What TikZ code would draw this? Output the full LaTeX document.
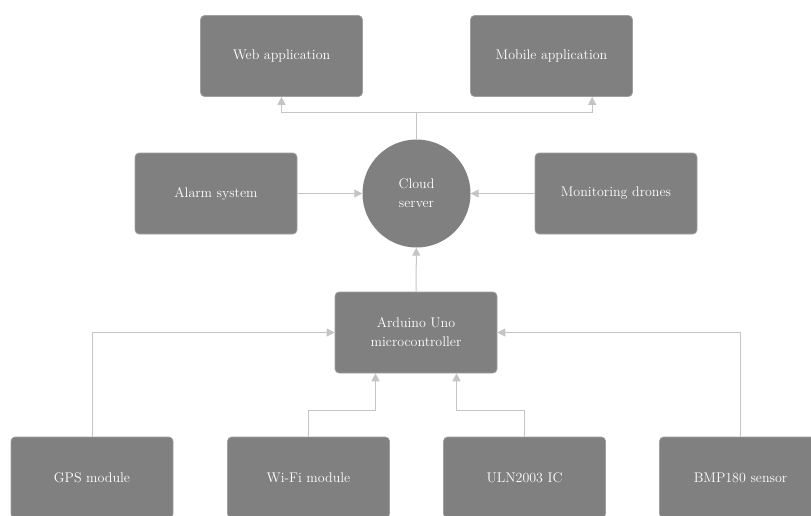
\documentclass[tikz,border=0pt]{standalone}
\usetikzlibrary{arrows.meta,calc}
\definecolor{boxgray}{HTML}{808080}
\definecolor{linegray}{HTML}{C4C4C4}
\begin{document}
\begin{tikzpicture}[x=1pt,y=-1pt,
    block/.style={draw=boxgray!75!white,line width=0.6pt,fill=boxgray,rounded corners=4pt,
      minimum width=162pt,minimum height=81pt,text=white,align=center,
      font=\fontsize{14}{19}\selectfont},
    hub/.style={circle,fill=boxgray,minimum size=108pt,inner sep=0pt,text=white,
      align=center,font=\fontsize{14}{19}\selectfont},
    link/.style={draw=linegray,line width=1pt,-{Triangle[width=8pt,length=8pt]}}]
  \useasboundingbox (0,0) rectangle (811,515);
  \clip (0,0) rectangle (811,515);
  \draw
    (281.5,56) node[block] (web){Web application}
    (551.5,56) node[block] (mobile){Mobile application}
    (216,193.5) node[block] (alarm){Alarm system}
    (416.5,193.5) node[hub] (cloud){Cloud\\server}
    (616,193.5) node[block] (drones){Monitoring drones}
    (416,332.5) node[block] (arduino){Arduino Uno\\microcontroller}
    (92,477.5) node[block] (gps){GPS module}
    (308.5,477.5) node[block] (wifi){Wi-Fi module}
    (524.5,477.5) node[block] (uln){ULN2003 IC}
    (740.5,477.5) node[block] (bmp){BMP180 sensor};
  \coordinate (fork) at (416.5,112);
  \coordinate (mobtip) at ($(mobile.south west)!0.75!(mobile.south east)$);
  \coordinate (ardA) at ($(arduino.south)+(-40.5,0)$);
  \coordinate (ardB) at ($(arduino.south)+(40.5,0)$);
  \begin{scope}[link]
    \draw[-] (cloud) -- (fork);
    \draw (fork) -| (web);
    \draw (fork) -| (mobtip);
    \draw (alarm) -- (cloud);
    \draw (drones) -- (cloud);
    \draw (arduino) -- (cloud);
    \draw (gps) |- (arduino);
    \draw (bmp) |- (arduino);
    \draw (wifi.north) -- ++(0,-26) -| (ardA);
    \draw (uln.north) -- ++(0,-26) -| (ardB);
  \end{scope}
\end{tikzpicture}
\end{document}
